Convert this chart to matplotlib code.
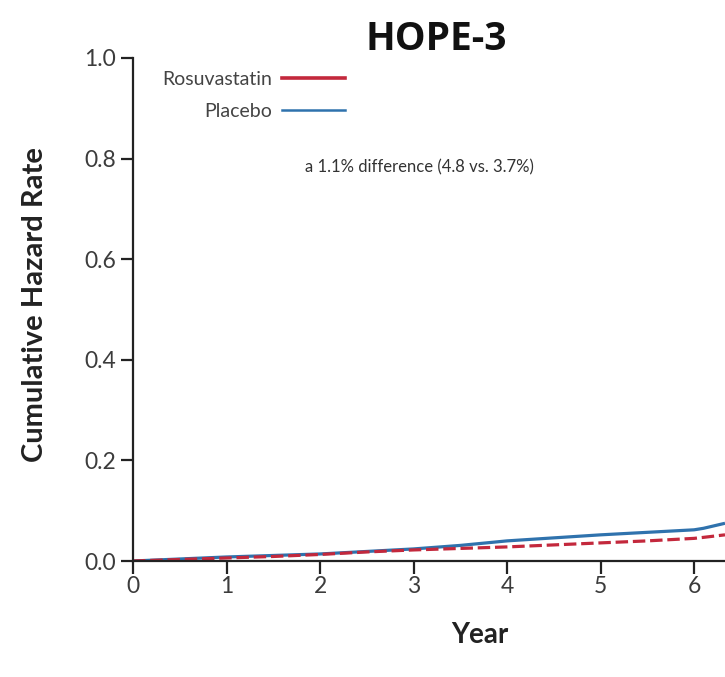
import matplotlib.pyplot as plt
from matplotlib.lines import Line2D

plt.rcParams["font.family"] = ["Lato", "DejaVu Sans"]

# cumulative hazard
years = [0, 0.5, 1, 1.5, 2, 2.5, 3, 3.5, 4, 4.5, 5, 5.5, 6, 6.1, 6.33]
placebo = [0, 0.004, 0.008, 0.011, 0.014, 0.019, 0.024, 0.031, 0.040,
           0.046, 0.052, 0.057, 0.062, 0.065, 0.075]
rosuvastatin = [0, 0.003, 0.006, 0.009, 0.013, 0.018, 0.022, 0.025, 0.028,
                0.032, 0.036, 0.040, 0.045, 0.047, 0.052]

x_ticks = [0, 1, 2, 3, 4, 5, 6]
y_ticks = [0.0, 0.2, 0.4, 0.6, 0.8, 1.0]

RED = "#c3283c"
BLUE = "#2f72ad"
INK = "#222222"

W, H = 725, 677
fig = plt.figure(figsize=(W / 100, H / 100), dpi=100)
ax = fig.add_axes([133 / W, 1 - 561 / H, 1 - 133 / W, 503 / H])

ax.plot(years, placebo, color=BLUE, lw=2.3, solid_capstyle="butt")
ax.plot(years, rosuvastatin, color=RED, lw=2.3, ls=(0, (3.9, 1.5)))

ax.set_xlim(0, 6.33)
ax.set_ylim(0, 1.0)
ax.set_xticks(x_ticks)
ax.set_yticks(y_ticks)
ax.set_yticklabels([f"{v:.1f}" for v in y_ticks])

for side in ("top", "right"):
    ax.spines[side].set_visible(False)
for side in ("left", "bottom"):
    ax.spines[side].set_linewidth(1.6)
    ax.spines[side].set_color(INK)
ax.tick_params(direction="out", length=9, width=1.6, color=INK,
               labelsize=16.5, labelcolor="#3c3c3c")
ax.tick_params(axis="x", pad=2)
ax.tick_params(axis="y", pad=3)

fig.text(480 / W, 1 - 622 / H, "Year", fontsize=20, fontweight="bold",
         color=INK, ha="center", va="top")
fig.text(35 / W, 1 - 305 / H, "Cumulative Hazard Rate", fontsize=21,
         fontweight="bold", color=INK, rotation=90, ha="center", va="center")
fig.text(436 / W, 1 - 39 / H, "HOPE-3", fontsize=28, fontweight="bold",
         color="#111111", ha="center", va="center",
         family=["Open Sans", "DejaVu Sans"])

handles = [Line2D([], [], color=RED, lw=2.6),
           Line2D([], [], color=BLUE, lw=1.8)]
ax.legend(handles, ["Rosuvastatin", "Placebo"], loc="upper left",
          bbox_to_anchor=(0.049, 0.975), frameon=False, markerfirst=False,
          borderaxespad=0, borderpad=0, handlelength=3.25, fontsize=14,
          labelspacing=0.8, handletextpad=0.5, labelcolor="#444444")

ax.text(1.84, 0.783, "a 1.1% difference (4.8 vs. 3.7%)", fontsize=12,
        ha="left", va="center", color="#333333")

fig.savefig("out.png", dpi=100)
